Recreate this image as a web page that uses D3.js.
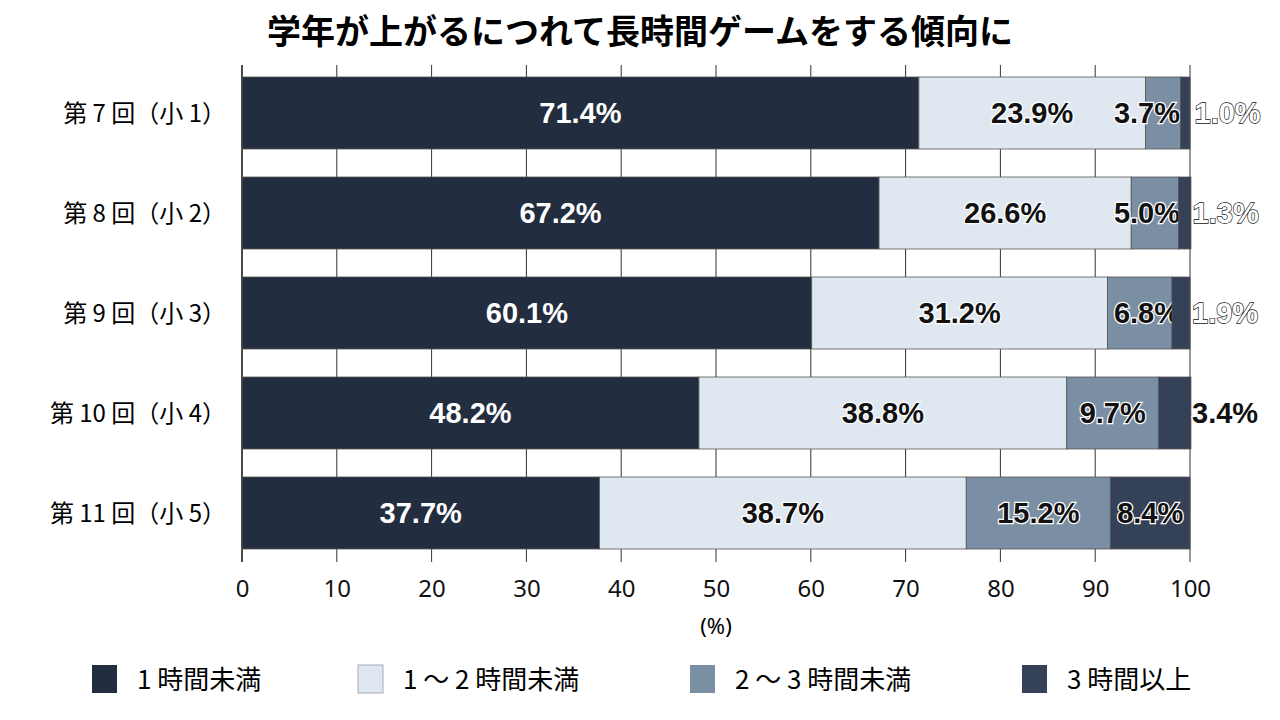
<!DOCTYPE html><html><head><meta charset="utf-8"><script src="https://cdn.jsdelivr.net/npm/d3@7"></script>
<style>body{margin:0;background:#fff}</style></head><body><svg id="c" width="1280" height="720"></svg>
<script>
const categories=["第 7 回（小 1）","第 8 回（小 2）","第 9 回（小 3）","第 10 回（小 4）","第 11 回（小 5）"];
const seriesNames=["1 時間未満","1 ～ 2 時間未満","2 ～ 3 時間未満","3 時間以上"];
const lt1=[71.4,67.2,60.1,48.2,37.7];
const h12=[23.9,26.6,31.2,38.8,38.7];
const h23=[3.7,5.0,6.8,9.7,15.2];
const ge3=[1.0,1.3,1.9,3.4,8.4];
const ticks=[0,10,20,30,40,50,60,70,80,90,100];
const colors=["#222d3f","#dfe8f0","#7a8fa3","#344157"];
const series=[lt1,h12,h23,ge3];
const svg=d3.select("#c");
const x=d3.scaleLinear().domain([0,100]).range([242,1190]);
const y=d3.scaleBand().domain(categories).range([63,563]).paddingInner(0.28).paddingOuter(0.14);
const JP="'Noto Sans CJK JP',sans-serif";
svg.append("text").attr("x",640).attr("y",44).attr("text-anchor","middle").attr("font-family",JP).attr("font-weight","bold").attr("font-size",34).text("学年が上がるにつれて長時間ゲームをする傾向に");
// grid
svg.append("g").selectAll("line").data(ticks).join("line").attr("x1",d=>x(d)).attr("x2",d=>x(d)).attr("y1",65).attr("y2",562).attr("stroke","#333").attr("stroke-width",1);
svg.append("line").attr("x1",242).attr("x2",242).attr("y1",65).attr("y2",562).attr("stroke","#333").attr("stroke-width",1.5);
const ax=svg.append("g").attr("transform","translate(0,562)").call(d3.axisBottom(x).tickValues(ticks).tickSize(0).tickPadding(18));
ax.select(".domain").remove();
ax.selectAll("text").attr("font-family","'Noto Sans',sans-serif").attr("font-size",24).attr("fill","#111");
svg.append("text").attr("x",716).attr("y",634).attr("text-anchor","middle").attr("font-family","'Noto Sans',sans-serif").attr("font-size",22).text("(%)");
categories.forEach((c,i)=>{
  let acc=0;
  series.forEach((s,k)=>{
    const v=s[i],x0=x(acc),x1=x(acc+v);acc+=v;
    svg.append("rect").attr("x",x0).attr("y",y(c)).attr("width",x1-x0).attr("height",y.bandwidth()).attr("fill",colors[k]).attr("stroke","#555").attr("stroke-width",0.8);
    const t=svg.append("text").attr("y",y(c)+y.bandwidth()/2).attr("dy","0.36em").attr("font-family","'Liberation Sans',Arial,sans-serif").attr("font-weight","bold").attr("font-size",29).text(v.toFixed(1)+"%");
    if(k===0){t.attr("x",(x0+x1)/2).attr("text-anchor","middle").attr("fill","#fff");}
    else{
      t.attr("fill","#111").attr("stroke","#fff").attr("stroke-width",2.5).attr("paint-order","stroke");
      if(k===3&&v<5){t.attr("x",Math.max(x0+14,1192)).attr("text-anchor","start");
        if(v<2)t.attr("fill","#fff").attr("stroke","#111").attr("stroke-width",1.3);}
      else if(k===2&&x1-x0<80){t.attr("x",x(100)-10).attr("text-anchor","end");}
      else t.attr("x",(x0+x1)/2).attr("text-anchor","middle");
    }
  });
  svg.append("text").attr("x",226).attr("y",y(c)+y.bandwidth()/2).attr("dy","0.36em").attr("text-anchor","end").attr("font-family",JP).attr("font-size",24).text(c);
});
const lx=[92,358,690,1022];
seriesNames.forEach((n,k)=>{
  svg.append("rect").attr("x",lx[k]).attr("y",665).attr("width",25).attr("height",28).attr("fill",colors[k]).attr("stroke",k===1?"#aab":"none");
  svg.append("text").attr("x",lx[k]+45).attr("y",680).attr("dy","0.36em").attr("font-family",JP).attr("font-size",26).text(n);
});
</script></body></html>
